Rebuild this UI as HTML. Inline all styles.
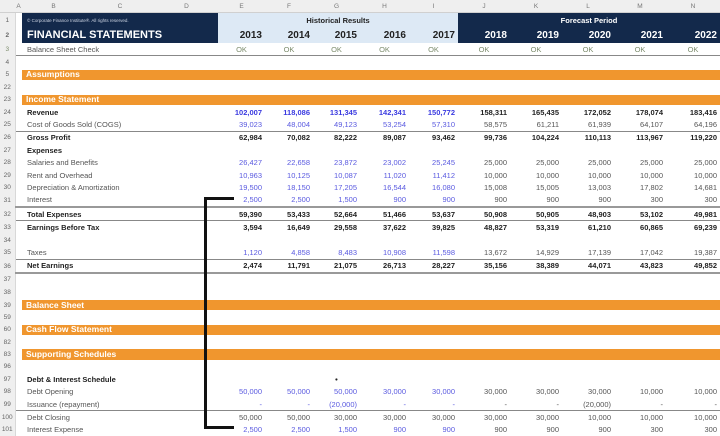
<!DOCTYPE html>
<html><head><meta charset="utf-8"><style>
body{margin:0;width:720px;height:434px;overflow:hidden;background:#fff;font-family:"Liberation Sans",Arial,sans-serif;position:relative}
table{border-collapse:collapse;table-layout:fixed;position:absolute;left:0;top:0;width:720px}
td{padding:0 3px 0 0;font-size:7.5px;white-space:nowrap;overflow:hidden;height:12.4px;line-height:9px;text-align:right;color:#555}
td.rn{background:#efefef;color:#666;text-align:center;font-size:6.5px;padding:0;border-right:1px solid #d8d8d8}
tr.hd td{height:12px;background:#efefef;color:#777;text-align:center;font-size:6.5px;padding:0;border-bottom:1px solid #d0d0d0}
td.l{text-align:left;padding-left:5px;color:#555}
.b td{font-weight:bold;color:#222}
.b td.rn{font-weight:normal;color:#666}
.i{color:#5a5ae0 !important}
.ib{color:#3a3ae0 !important}
.ok td{color:#7c8c6c;text-align:center;padding:0}
.or{background:#f0962e;color:#fff !important;font-weight:bold;font-size:8.5px;text-align:left;padding-left:4px;box-shadow:inset 0 1px #fff,inset 0 -1px #fff}
.t1 td:not(.rn){border-bottom:2px double #999}
.t2 td:not(.rn){border-bottom:1px solid #888}
</style></head><body>
<table>
<colgroup><col style="width:15px"><col style="width:7px"><col style="width:63px"><col style="width:70px"><col style="width:63px"><col style="width:47px"><col style="width:48px"><col style="width:47px"><col style="width:49px"><col style="width:49px"><col style="width:52px"><col style="width:52px"><col style="width:52px"><col style="width:52px"><col style="width:54px"></colgroup>
<tr class="hd"><td></td><td>A</td><td>B</td><td>C</td><td>D</td><td>E</td><td>F</td><td>G</td><td>H</td><td>I</td><td>J</td><td>K</td><td>L</td><td>M</td><td>N</td></tr>
<tr><td class="rn" style="height:14px">1</td><td></td><td colspan="3" style="background:#13294b;color:#cfd6e4;font-size:4.5px;text-align:left;padding-left:5px">© Corporate Finance Institute®. All rights reserved.</td><td colspan="5" style="background:#dde9f5;color:#222;font-weight:bold;text-align:center;padding:0">Historical Results</td><td colspan="5" style="background:#13294b;color:#fff;font-weight:bold;text-align:center;padding:0">Forecast Period</td></tr>
<tr style="font-weight:bold;font-size:10px"><td class="rn" style="height:16px">2</td><td></td><td colspan="3" style="background:#13294b;color:#fff;font-size:11px;text-align:left;padding-left:5px;font-weight:bold">FINANCIAL STATEMENTS</td><td style="background:#dde9f5;color:#222;font-size:10px">2013</td><td style="background:#dde9f5;color:#222;font-size:10px">2014</td><td style="background:#dde9f5;color:#222;font-size:10px">2015</td><td style="background:#dde9f5;color:#222;font-size:10px">2016</td><td style="background:#dde9f5;color:#222;font-size:10px">2017</td><td style="background:#13294b;color:#fff;font-size:10px">2018</td><td style="background:#13294b;color:#fff;font-size:10px">2019</td><td style="background:#13294b;color:#fff;font-size:10px">2020</td><td style="background:#13294b;color:#fff;font-size:10px">2021</td><td style="background:#13294b;color:#fff;font-size:10px">2022</td></tr>
<tr class="ok t2"><td class="rn">3</td><td></td><td colspan="3" class="l" style="text-align:left;padding-left:5px;color:#555">Balance Sheet Check</td><td>OK</td><td>OK</td><td>OK</td><td>OK</td><td>OK</td><td>OK</td><td>OK</td><td>OK</td><td>OK</td><td>OK</td></tr>
<tr><td class="rn">4</td><td colspan="14"></td></tr>
<tr><td class="rn">5</td><td></td><td colspan="13" class="or">Assumptions</td></tr>
<tr><td class="rn">22</td><td colspan="14"></td></tr>
<tr><td class="rn">23</td><td></td><td colspan="13" class="or">Income Statement</td></tr>
<tr class="b"><td class="rn">24</td><td></td><td colspan="3" class="l" style="color:#222">Revenue</td><td class="ib">102,007</td><td class="ib">118,086</td><td class="ib">131,345</td><td class="ib">142,341</td><td class="ib">150,772</td><td>158,311</td><td>165,435</td><td>172,052</td><td>178,074</td><td>183,416</td></tr>
<tr class="t2"><td class="rn">25</td><td></td><td colspan="3" class="l">Cost of Goods Sold (COGS)</td><td class="i">39,023</td><td class="i">48,004</td><td class="i">49,123</td><td class="i">53,254</td><td class="i">57,310</td><td>58,575</td><td>61,211</td><td>61,939</td><td>64,107</td><td>64,196</td></tr>
<tr class="b"><td class="rn">26</td><td></td><td colspan="3" class="l" style="color:#222">Gross Profit</td><td>62,984</td><td>70,082</td><td>82,222</td><td>89,087</td><td>93,462</td><td>99,736</td><td>104,224</td><td>110,113</td><td>113,967</td><td>119,220</td></tr>
<tr class="b"><td class="rn">27</td><td></td><td colspan="3" class="l" style="color:#222">Expenses</td><td colspan="10"></td></tr>
<tr><td class="rn">28</td><td></td><td colspan="3" class="l">Salaries and Benefits</td><td class="i">26,427</td><td class="i">22,658</td><td class="i">23,872</td><td class="i">23,002</td><td class="i">25,245</td><td>25,000</td><td>25,000</td><td>25,000</td><td>25,000</td><td>25,000</td></tr>
<tr><td class="rn">29</td><td></td><td colspan="3" class="l">Rent and Overhead</td><td class="i">10,963</td><td class="i">10,125</td><td class="i">10,087</td><td class="i">11,020</td><td class="i">11,412</td><td>10,000</td><td>10,000</td><td>10,000</td><td>10,000</td><td>10,000</td></tr>
<tr><td class="rn">30</td><td></td><td colspan="3" class="l">Depreciation &amp; Amortization</td><td class="i">19,500</td><td class="i">18,150</td><td class="i">17,205</td><td class="i">16,544</td><td class="i">16,080</td><td>15,008</td><td>15,005</td><td>13,003</td><td>17,802</td><td>14,681</td></tr>
<tr class="t1"><td class="rn">31</td><td></td><td colspan="3" class="l">Interest</td><td class="i">2,500</td><td class="i">2,500</td><td class="i">1,500</td><td class="i">900</td><td class="i">900</td><td>900</td><td>900</td><td>900</td><td>300</td><td>300</td></tr>
<tr class="b t2"><td class="rn">32</td><td></td><td colspan="3" class="l" style="color:#222">Total Expenses</td><td>59,390</td><td>53,433</td><td>52,664</td><td>51,466</td><td>53,637</td><td>50,908</td><td>50,905</td><td>48,903</td><td>53,102</td><td>49,981</td></tr>
<tr class="b"><td class="rn">33</td><td></td><td colspan="3" class="l" style="color:#222">Earnings Before Tax</td><td>3,594</td><td>16,649</td><td>29,558</td><td>37,622</td><td>39,825</td><td>48,827</td><td>53,319</td><td>61,210</td><td>60,865</td><td>69,239</td></tr>
<tr><td class="rn">34</td><td colspan="14"></td></tr>
<tr class="t2"><td class="rn">35</td><td></td><td colspan="3" class="l">Taxes</td><td class="i">1,120</td><td class="i">4,858</td><td class="i">8,483</td><td class="i">10,908</td><td class="i">11,598</td><td>13,672</td><td>14,929</td><td>17,139</td><td>17,042</td><td>19,387</td></tr>
<tr class="b t1"><td class="rn">36</td><td></td><td colspan="3" class="l" style="color:#222">Net Earnings</td><td>2,474</td><td>11,791</td><td>21,075</td><td>26,713</td><td>28,227</td><td>35,156</td><td>38,389</td><td>44,071</td><td>43,823</td><td>49,852</td></tr>
<tr><td class="rn">37</td><td colspan="14"></td></tr>
<tr><td class="rn">38</td><td colspan="14"></td></tr>
<tr><td class="rn">39</td><td></td><td colspan="13" class="or">Balance Sheet</td></tr>
<tr><td class="rn">59</td><td colspan="14"></td></tr>
<tr><td class="rn">60</td><td></td><td colspan="13" class="or">Cash Flow Statement</td></tr>
<tr><td class="rn">82</td><td colspan="14"></td></tr>
<tr><td class="rn">83</td><td></td><td colspan="13" class="or">Supporting Schedules</td></tr>
<tr><td class="rn">96</td><td colspan="14"></td></tr>
<tr class="b"><td class="rn">97</td><td></td><td colspan="3" class="l" style="color:#222">Debt &amp; Interest Schedule</td><td></td><td></td><td style="text-align:center;padding:0">•</td><td colspan="7"></td></tr>
<tr><td class="rn">98</td><td></td><td colspan="3" class="l">Debt Opening</td><td class="i">50,000</td><td class="i">50,000</td><td class="i">50,000</td><td class="i">30,000</td><td class="i">30,000</td><td>30,000</td><td>30,000</td><td>30,000</td><td>10,000</td><td>10,000</td></tr>
<tr class="t2"><td class="rn">99</td><td></td><td colspan="3" class="l">Issuance (repayment)</td><td class="i">-</td><td class="i">-</td><td class="i">(20,000)</td><td class="i">-</td><td class="i">-</td><td>-</td><td>-</td><td>(20,000)</td><td>-</td><td>-</td></tr>
<tr><td class="rn">100</td><td></td><td colspan="3" class="l">Debt Closing</td><td>50,000</td><td>50,000</td><td>30,000</td><td>30,000</td><td>30,000</td><td>30,000</td><td>30,000</td><td>10,000</td><td>10,000</td><td>10,000</td></tr>
<tr><td class="rn">101</td><td></td><td colspan="3" class="l">Interest Expense</td><td class="i">2,500</td><td class="i">2,500</td><td class="i">1,500</td><td class="i">900</td><td class="i">900</td><td>900</td><td>900</td><td>900</td><td>300</td><td>300</td></tr>
</table>
<div style="position:absolute;left:204px;top:197px;width:3px;height:232px;background:#111"></div>
<div style="position:absolute;left:204px;top:197px;width:30px;height:3px;background:#111"></div>
<div style="position:absolute;left:204px;top:426px;width:30px;height:3px;background:#111"></div>
</body></html>
